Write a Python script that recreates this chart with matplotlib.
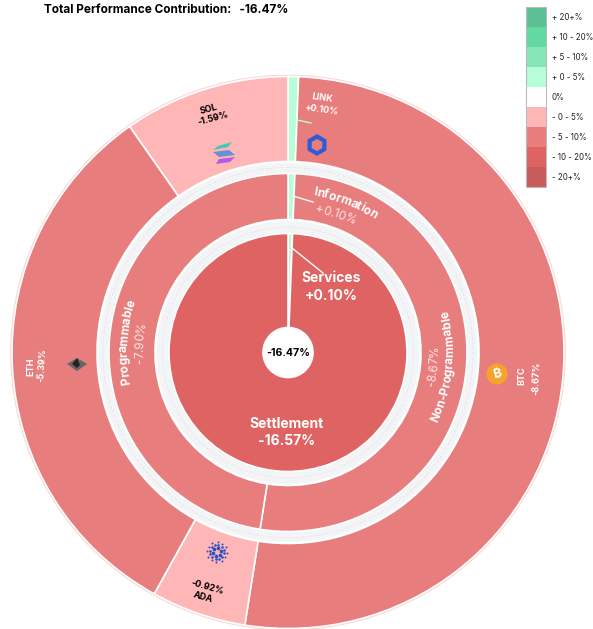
import math
from matplotlib import pyplot as plt
from matplotlib.font_manager import FontProperties
from matplotlib.patches import Circle, Polygon, Rectangle, RegularPolygon

plt.rcParams['font.family'] = ['Inter', 'DejaVu Sans']

legend_labels = ["+ 20+%", "+ 10 - 20%", "+ 5 - 10%", "+ 0 - 5%", "0%",
                 "- 0 - 5%", "- 5 - 10%", "- 10 - 20%", "- 20+%"]
legend_colors = ["#5cc095", "#62d9a0", "#86e5b5", "#b7fdd8", "#ffffff",
                 "#ffb6b6", "#e87d7d", "#df6363", "#c85c5c"]

# slice sizes are in degrees
asset_names = ["LINK", "BTC", "ADA", "ETH", "SOL"]
asset_sizes = [2.2, 186.8, 20, 116, 35]
asset_colors = ["#b7fdd8", "#e87d7d", "#ffb6b6", "#e87d7d", "#ffb6b6"]

sector_names = ["Information", "Non-Programmable", "Programmable"]
sector_sizes = [2.2, 186.8, 171]
sector_colors = ["#b7fdd8", "#e87d7d", "#e87d7d"]

group_names = ["Services", "Settlement"]
group_sizes = [2.2, 357.8]
group_colors = ["#b7fdd8", "#df6363"]

cx, cy = 288, 352.5

fig = plt.figure(figsize=(5.93, 6.29), dpi=100)
ax = fig.add_axes([0, 0, 1, 1])
renderer = fig.canvas.get_renderer()


def ring(sizes, colors, radius, width):
    # y axis is flipped below, so counterclock here runs clockwise on screen
    ax.pie(sizes, colors=colors, radius=radius, center=(cx, cy), startangle=-90,
           counterclock=True, wedgeprops=dict(width=width, edgecolor="white", linewidth=1.2))


def gray_band(r_out, r_in):
    ax.add_patch(Circle((cx, cy), r_out, fc="#f3f4f6", ec="white", lw=2.5, zorder=0.5))
    ax.add_patch(Circle((cx, cy), (r_out + r_in) / 2, fc="none", ec="#e0e1e4", lw=0.4, ls=(0, (6, 3)), zorder=0.6))


ax.add_patch(Circle((cx, cy), 277, fc="none", ec="#f9d6d6", lw=1.2, zorder=0.4))
gray_band(191, 179)
gray_band(133, 118)
ring(asset_sizes, asset_colors, 276, 85)
ring(sector_sizes, sector_colors, 179, 46)
ring(group_sizes, group_colors, 119, 94)
ax.add_patch(Circle((cx, cy), 25, fc="white", ec="none", zorder=3))

ax.set_xlim(0, 593)
ax.set_ylim(629, 0)
ax.set_aspect("auto")
ax.axis("off")


def label(x, y, s, size=8, color="white", weight="bold", rot=0):
    ax.text(x, y, s, fontsize=size, color=color, fontweight=weight, rotation=rot,
            ha="center", va="center", rotation_mode="anchor", zorder=6)


def arc_label(s, r, mid, size=8.5, color="white", weight="bold", flip=False):
    # one character at a time along a circle round the chart centre, mid in degrees clockwise from top
    prop = FontProperties(family=['Inter', 'DejaVu Sans'], size=size, weight=weight)
    total = renderer.get_text_width_height_descent(s, prop, False)[0]
    for i, ch in enumerate(s):
        w0 = renderer.get_text_width_height_descent(s[:i], prop, False)[0] if i else 0
        w1 = renderer.get_text_width_height_descent(s[:i + 1], prop, False)[0]
        off = math.degrees(((w0 + w1) / 2 - total / 2) / r)
        a = mid - off if flip else mid + off
        x = cx + r * math.sin(math.radians(a))
        y = cy - r * math.cos(math.radians(a))
        label(x, y, ch, size=size, color=color, weight=weight, rot=180 - a if flip else -a)


# leader lines
ax.plot([297, 311], [120, 123], color="#b7fdd8", lw=1, zorder=5)
ax.plot([293, 313], [196, 202], color="white", lw=1, zorder=5)
ax.plot([292, 323], [248, 273], color="white", lw=1, zorder=5)

# title
label(166, 10, "Total Performance Contribution:   -16.47%", size=8.5, color="black", weight="bold")
label(288, 353, "-16.47%", size=7.6, color="black", weight="bold")

# inner ring
label(331, 278, "Services", size=10)
label(331, 296, "+0.10%", size=10)
label(287, 424, "Settlement", size=10)
label(287, 441, "-16.57%", size=10)

# middle ring
arc_label("Information", 162, 21)
arc_label("+0.10%", 146, 19, weight="normal", color="#fbe4e4")
arc_label("Programmable", 164, 273.7)
arc_label("-7.90%", 148, 273.7, weight="normal", color="#fbe4e4")
arc_label("Non-Programmable", 162, 95.3, flip=True)
arc_label("-8.67%", 147, 95.5, weight="normal", color="#fbe4e4", flip=True)

# outer ring
label(322, 98, "LINK", size=6.5, rot=-8)
label(321, 110, "+0.10%", size=6.5, rot=-8)
label(522, 376, "BTC", size=6.5, rot=90)
label(536, 378, "-8.67%", size=6.5, rot=88)
label(31, 367, "ETH", size=6.5, rot=90)
label(42, 365, "-5.39%", size=6.5, rot=86)
label(209, 109, "SOL", size=6.5, color="black", rot=15)
label(213, 118, "-1.59%", size=6.5, color="black", rot=15)
label(207, 587, "-0.92%", size=6.5, color="black", rot=-16)
label(203, 597, "ADA", size=6.5, color="black", rot=-16)

# asset icons
ax.add_patch(RegularPolygon((317, 145), 6, radius=8.5, fc="none", ec="#2f5bd8", lw=3, zorder=5))
ax.add_patch(Circle((497, 374), 10.5, fc="#f5a32c", ec="none", zorder=5))
label(497, 374, "\u20bf", size=9, rot=14)
ax.add_patch(Polygon([(218, 146), (232, 142), (228, 147), (213, 150)], fc="#45c9b5", ec="none", zorder=5))
ax.add_patch(Polygon([(213, 152), (229, 150), (235, 155), (219, 157)], fc="#6b8fd6", ec="none", zorder=5))
ax.add_patch(Polygon([(219, 159), (235, 157), (230, 162), (216, 164)], fc="#b35ce8", ec="none", zorder=5))
ax.add_patch(Polygon([(67, 364), (77, 358), (87, 364), (77, 371)], fc="#666666", ec="none", zorder=5))
ax.add_patch(Polygon([(72, 364), (77, 358), (80, 365), (77, 368)], fc="#222222", ec="none", zorder=5))
for r, n, s in [(4, 6, 7), (7, 12, 3.5), (10, 12, 2)]:
    for k in range(n):
        a = 2 * math.pi * k / n + r
        ax.scatter(217 + r * math.cos(a), 552 + r * math.sin(a), s=s, color="#2a4fc0", linewidths=0, zorder=5)

# colour key
for i, name in enumerate(legend_labels):
    ax.add_patch(Rectangle((526, 7 + i * 20), 20, 20, fc=legend_colors[i], ec="none", zorder=5))
    ax.text(552, 17 + i * 20, name, fontsize=5.7, color="#222222", va="center", ha="left", zorder=5)
ax.add_patch(Rectangle((526, 7), 20, 180, fc="none", ec="#bbbbbb", lw=0.8, zorder=5))

fig.savefig("out.png", dpi=100)
